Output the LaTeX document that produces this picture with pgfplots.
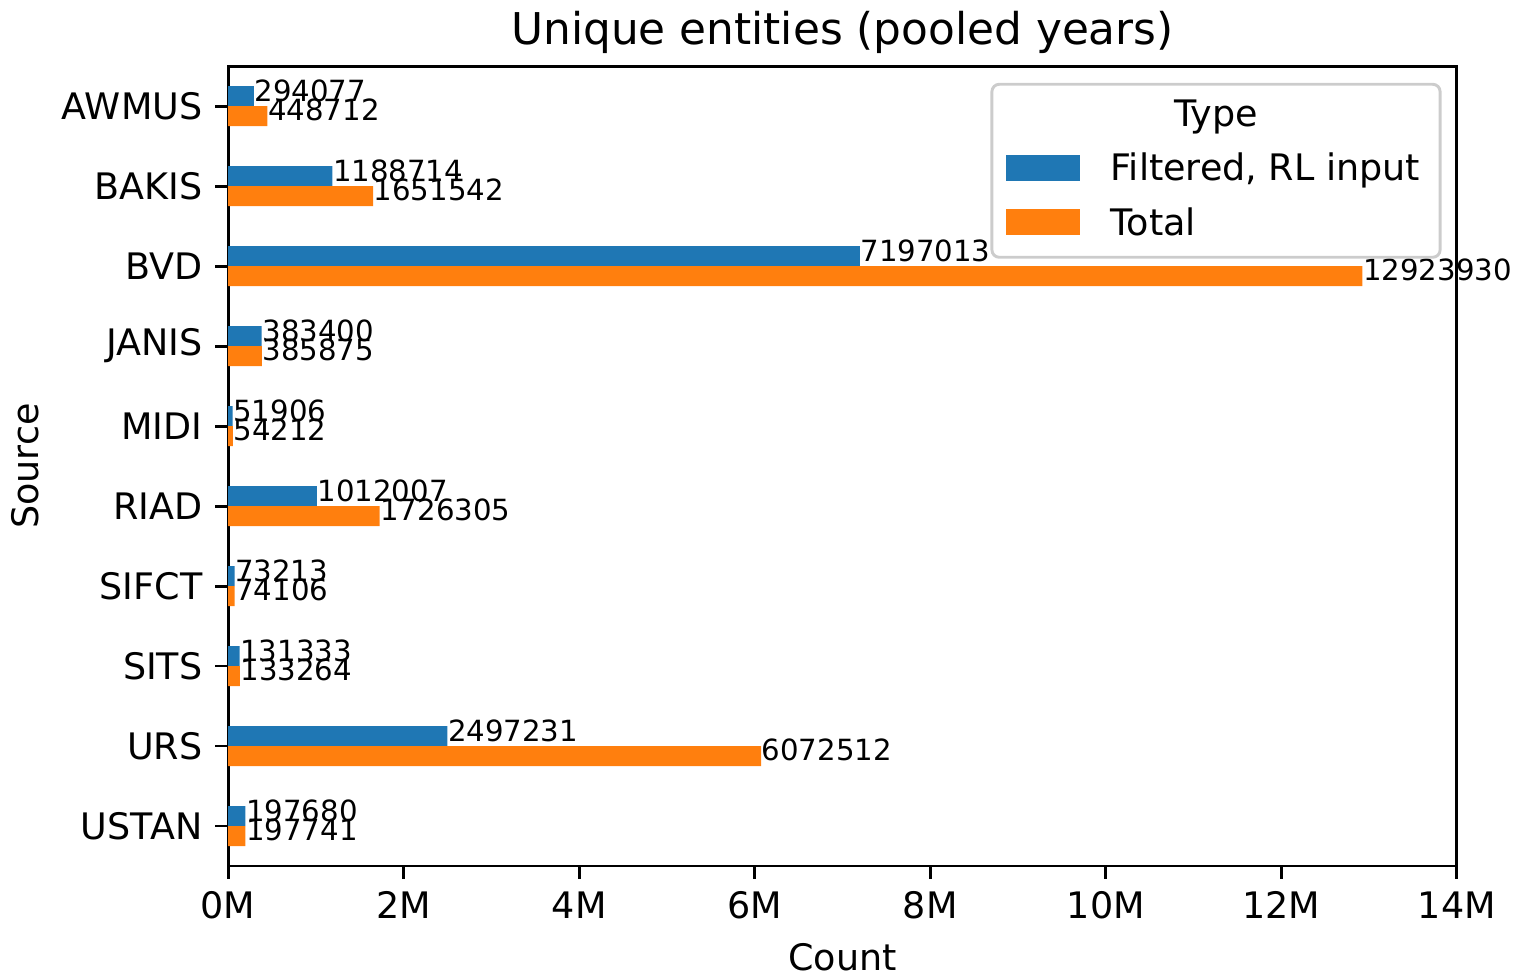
\documentclass[border=0pt]{standalone}
\usepackage{fontspec}
\setmainfont{DejaVu Sans}
\usepackage{pgfplots}
\pgfplotsset{compat=1.18}
\usepackage{pgfplotstable}
\definecolor{mblue}{HTML}{1F77B4}
\definecolor{morange}{HTML}{FF7F0E}
\definecolor{legframe}{HTML}{CCCCCC}

\pgfplotstableread{
i name filt total
0 AWMUS 294077 448712
1 BAKIS 1188714 1651542
2 BVD 7197013 12923930
3 JANIS 383400 385875
4 MIDI 51906 54212
5 RIAD 1012007 1726305
6 SIFCT 73213 74106
7 SITS 131333 133264
8 URS 2497231 6072512
9 USTAN 197680 197741
}\datatable

\begin{document}
\begin{tikzpicture}
\begin{axis}[
  scale only axis, width=336.7pt, height=219.2pt,
  xmin=0, xmax=14000000, ymin=-0.5, ymax=9.5, y dir=reverse,
  xtick={0,2000000,4000000,6000000,8000000,10000000,12000000,14000000},
  xticklabels={0M,2M,4M,6M,8M,10M,12M,14M},
  scaled x ticks=false,
  ytick={0,1,2,3,4,5,6,7,8,9},
  yticklabels={AWMUS,BAKIS,BVD,JANIS,MIDI,RIAD,SIFCT,SITS,URS,USTAN},
  tick align=outside, xtick pos=left, ytick pos=left,
  major tick length=3.5pt,
  every tick/.style={black, line width=0.8pt},
  axis line style={line width=0.8pt},
  tick label style={font=\fontsize{10}{12}\selectfont},
  xbar, bar width=0.25,
  point meta=explicit symbolic,
  nodes near coords,
  every node near coord/.style={anchor=west, inner sep=0pt, font=\fontsize{8}{9.6}\selectfont, text height=6.08pt, text depth=1.68pt, black},
  clip=false,
  title={Unique entities (pooled years)},
  title style={at={(axis description cs:0.5,1)}, anchor=base, inner sep=0pt, font=\fontsize{12}{14.4}\selectfont},
  xlabel={Count},
  xlabel style={at={(axis description cs:0.5,-0.130)}, anchor=base, inner sep=0pt, font=\fontsize{10}{12}\selectfont},
  ylabel={Source},
  ylabel style={at={(axis description cs:-0.1539,0.5)}, anchor=base, inner sep=0pt, font=\fontsize{10}{12}\selectfont},
]
\addplot[fill=mblue, draw=none, bar shift=-0.125,
  every node near coord/.append style={yshift=3.4pt}] table[x=filt, y=i, meta=filt] {\datatable};
\addplot[fill=morange, draw=none, bar shift=0.125,
  every node near coord/.append style={yshift=-1.8pt}] table[x=total, y=i, meta=total] {\datatable};
\end{axis}
\draw[legframe, fill=white, fill opacity=0.8, rounded corners=2pt, line width=0.8pt] (209.3pt,166.8pt) rectangle (332.1pt,214.2pt);
\node[anchor=base, inner sep=0pt, font=\fontsize{10}{12}\selectfont] at (270.7pt,202.7pt) {Type};
\fill[mblue] (213.2pt,187.7pt) rectangle (233.4pt,194.8pt);
\node[anchor=base west, inner sep=0pt, font=\fontsize{10}{12}\selectfont] at (241.6pt,187.7pt) {Filtered, RL input};
\fill[morange] (213.2pt,172.9pt) rectangle (233.4pt,180.0pt);
\node[anchor=base west, inner sep=0pt, font=\fontsize{10}{12}\selectfont] at (241.6pt,172.9pt) {Total};
\pgfresetboundingbox
\path (-62.5pt,-29.6pt) rectangle (354pt,237.3pt);
\end{tikzpicture}
\end{document}
